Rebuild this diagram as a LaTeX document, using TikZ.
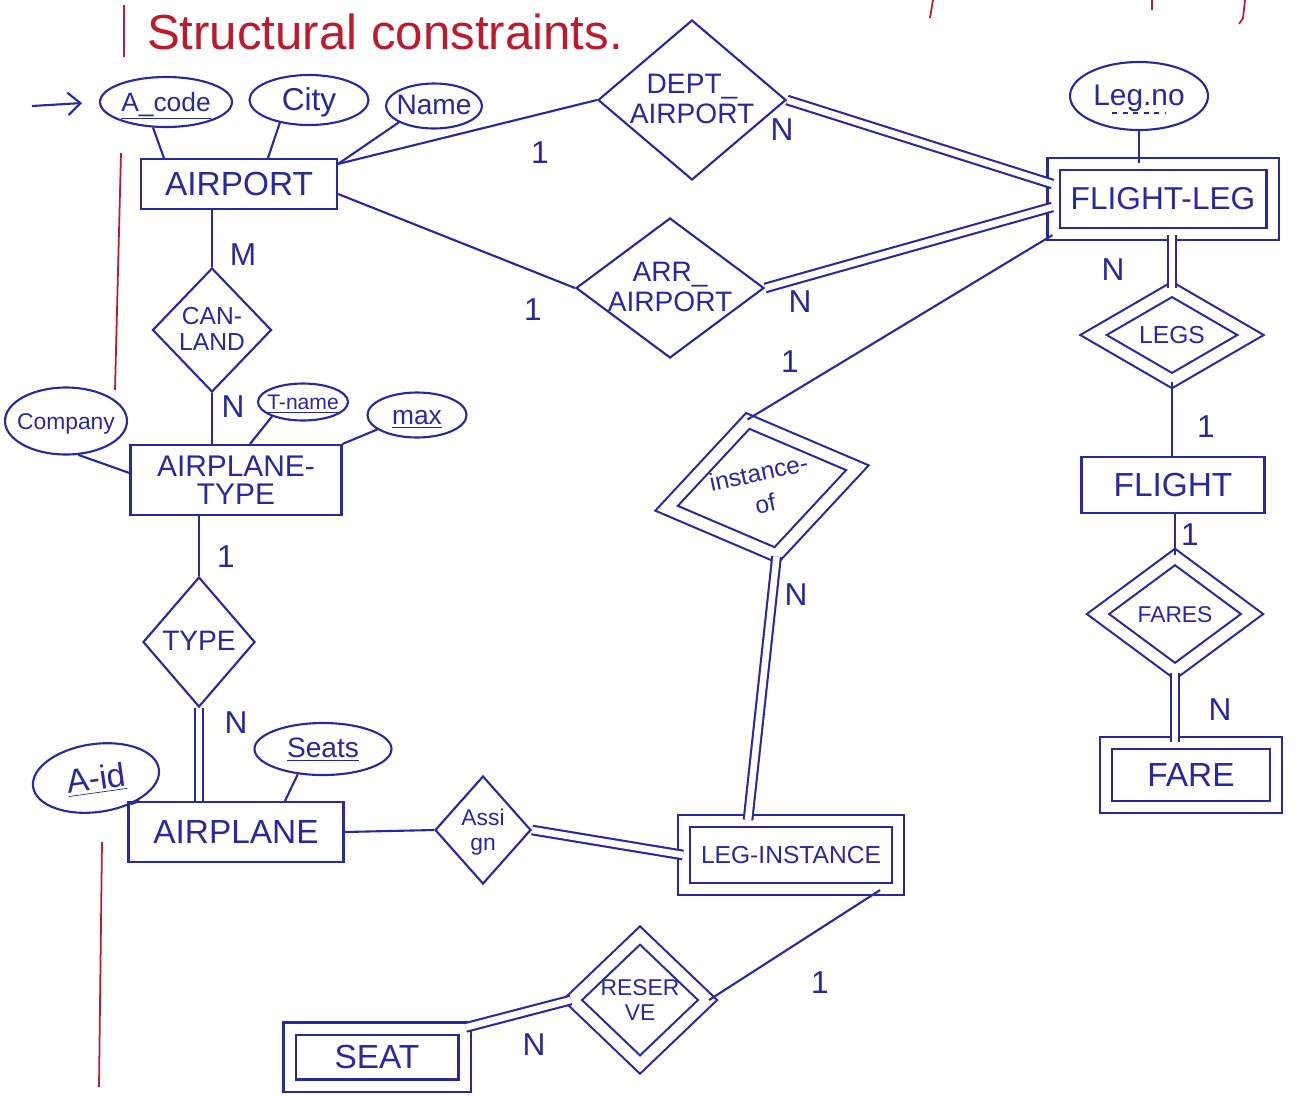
\documentclass[tikz,border=0pt]{standalone}
\usepackage{fontspec}
\setmainfont{Liberation Sans}
\usepackage{tikz}
\usetikzlibrary{calc, shapes.geometric}
\usetikzlibrary{arrows.meta}
\tikzset{>={Straight Barb[length=2.5mm,width=4.5mm]}}
\definecolor{ink}{RGB}{40,40,160}
\definecolor{redink}{RGB}{190,25,45}
\newcommand{\erlabel}[1]{\smash{\makebox[0pt]{\raisebox{-.36em}{\begin{tabular}{@{}c@{}}#1\end{tabular}}}}}

\begin{document}
\begin{tikzpicture}[
    x = 0.2mm, y = -0.2mm,
    line width = 1.2pt, ink,
    entity/.style = {draw, rectangle, inner sep=0pt, align=center,
        font=\fontsize{19}{21}\selectfont},
    weak/.style = {entity, double, double distance=2mm},
    attr/.style = {draw, ellipse, inner sep=0pt, font=\fontsize{16}{18}\selectfont},
    rel/.style = {draw, diamond, inner sep=0pt, font=\fontsize{16}{17}\selectfont},
    weakrel/.style = {rel, double, double distance=2.2mm},
    card/.style = {inner sep=0pt, font=\fontsize{18}{20}\selectfont},
    total/.style = {double, double distance=1.3mm},
    redpen/.style = {redink, line width=1pt}
  ]
  \useasboundingbox[fill=white] (0,0) rectangle (1295,1095);

  % heading and margin lines
  \node[redink, font=\fontsize{28}{30}\selectfont] (title) at (385,32) {Structural constraints.};
  \draw[redpen, line width=1.6pt] (124,5) -- (124,57);
  \draw[redpen] (933,0) -- (930,18);
  \draw[redpen] (1152,0) -- (1152,10);
  \draw[redpen] (1245,0) -- (1243,18) -- (1239,24);
  \draw[redpen] (121,153) -- (115,390);
  \draw[redpen] (102,842) -- (99,1087);

  % entities
  \node[entity, minimum width=39.2mm, minimum height=10mm] (airport) at (239,184) {AIRPORT};
  \node[entity, minimum width=42.2mm, minimum height=14mm,
        font=\fontsize{17}{16}\selectfont] (atype) at (236,480) {AIRPLANE-\\TYPE};
  \node[entity, minimum width=43mm, minimum height=12mm] (airplane) at (236,832) {AIRPLANE};
  \node[entity, minimum width=36.6mm, minimum height=11.2mm] (flight) at (1173,485) {FLIGHT};
  \node[weak, minimum width=43.8mm, minimum height=14mm,
        font=\fontsize{18}{20}\selectfont] (flightleg) at (1163,199) {FLIGHT-LEG};
  \node[weak, minimum width=42.8mm, minimum height=13.6mm,
        font=\fontsize{14}{16}\selectfont] (leginst) at (791,855) {LEG-INSTANCE};
  \node[weak, minimum width=34mm, minimum height=12.8mm] (fare) at (1191,775) {FARE};
  \node[weak, minimum width=35mm, minimum height=11.4mm] (seat) at (377,1057) {SEAT};

  % attributes
  \node[attr, minimum width=26.4mm, minimum height=10mm,
        font=\fontsize{15}{17}\selectfont] (acode) at (166,102) {\erlabel{\underline{A\_code}}};
  \node[attr, minimum width=23.8mm, minimum height=10mm,
        font=\fontsize{18}{20}\selectfont] (city) at (309,100) {\erlabel{City}};
  \node[attr, minimum width=19.2mm, minimum height=9mm] (aname) at (434,106) {\erlabel{Name}};
  \node[attr, minimum width=27.6mm, minimum height=13.6mm,
        font=\fontsize{17}{19}\selectfont] (legno) at (1139,96) {\erlabel{Leg.no}};
  \draw[dashed, line width=0.8pt] ($(legno.center)+(-27,17)$) -- ($(legno.center)+(27,17)$);
  \node[attr, minimum width=24.4mm, minimum height=13.4mm,
        font=\fontsize{13}{15}\selectfont] (company) at (66,421) {\erlabel{Company}};
  \node[attr, minimum width=18mm, minimum height=7.4mm,
        font=\fontsize{12}{14}\selectfont] (tname) at (303,402) {\erlabel{\underline{T-name}}};
  \node[attr, minimum width=19.8mm, minimum height=9mm,
        font=\fontsize{15}{17}\selectfont] (maxn) at (417,415) {\erlabel{\underline{max}}};
  \node[attr, minimum width=25.4mm, minimum height=13.6mm, rotate=8,
        font=\fontsize{19}{21}\selectfont] (aid) at (96,778) {\erlabel{\underline{A-id}}};
  \node[attr, minimum width=27.4mm, minimum height=10.4mm] (seats) at (323,749) {\erlabel{\underline{Seats}}};

  % relationships
  \node[rel, minimum width=37.6mm, minimum height=32mm] (dept) at (692,100) {\erlabel{DEPT\_\\AIRPORT}};
  \node[rel, minimum width=37.6mm, minimum height=28mm] (arr) at (670,288) {\erlabel{ARR\_\\AIRPORT}};
  \node[rel, minimum width=23.8mm, minimum height=24.8mm,
        font=\fontsize{14}{15}\selectfont] (canland) at (212,330) {\erlabel{CAN-\\LAND}};
  \node[rel, minimum width=22.4mm, minimum height=26mm] (typer) at (199,642) {\erlabel{TYPE}};
  \node[rel, minimum width=19.2mm, minimum height=21.6mm,
        font=\fontsize{13}{14}\selectfont] (assign) at (483,830) {\erlabel{Assi\\gn}};
  \node[weakrel, minimum width=39.2mm, minimum height=27.6mm, rotate=12,
        font=\fontsize{14}{18}\selectfont] (instof) at (762,488) {\erlabel{instance-\\of}};
  \node[weakrel, minimum width=31.6mm, minimum height=18.4mm,
        font=\fontsize{14}{16}\selectfont] (legs) at (1172,335) {\erlabel{LEGS}};
  \node[weakrel, minimum width=31mm, minimum height=23mm,
        font=\fontsize{13}{15}\selectfont] (fares) at (1175,614) {\erlabel{FARES}};
  \node[weakrel, minimum width=27.2mm, minimum height=26mm,
        font=\fontsize{13}{14}\selectfont] (reserve) at (640,1000) {\erlabel{RESER\\VE}};

  % key marker
  \coordinate (keymark) at (32,106);
  \draw[->, shorten >=3.4mm] (keymark) -- (acode.west);

  % attribute links
  \draw (acode.243) -- ($(airport.north west)+(24,0)$);
  \draw (city.218) -- ($(airport.north)+(29,0)$);
  \draw (aname.205) -- ($(airport.north east)+(0,6)$);
  \draw (legno.south) -- (legno.south |- flightleg.north);
  \draw (company.290) -- ($(atype.west)+(0,-7)$);
  \draw (tname.205) -- ($(atype.north)+(14,0)$);
  \draw (maxn.200) -- (atype.north east);
  \draw (aid.315) -- ($(airplane.north west)+(12,0)$);
  \draw (seats.225) -- ($(airplane.north)+(49,0)$);

  % relationship links
  \draw ($(airport.north east)+(0,6)$) -- (dept.west);
  \draw[total] (dept.east) -- ($(flightleg.west)+(0,-15)$);
  \draw ($(airport.east)+(0,10)$) -- (arr.west);
  \draw[total] (arr.east) -- ($(flightleg.west)+(0,8)$);
  \draw (canland.north |- airport.south) -- (canland.north);
  \draw (canland.south) -- (canland.south |- atype.north);
  \draw (typer.north |- atype.south) -- (typer.north);
  \draw[total] (typer.south) -- (typer.south |- airplane.north);
  \draw (airplane.east) -- (assign.west);
  \draw[total] (assign.east) -- (leginst.west);
  \draw (instof.north) -- (flightleg.south west);
  \draw[total] (instof.south) -- ($(leginst.north)+(-43,0)$);
  \draw[total] (legs.north |- flightleg.south) -- (legs.north);
  \draw (legs.south) -- (legs.south |- flight.north);
  \draw (flight.south -| fares.north) -- (fares.north);
  \draw[total] (fares.south) -- (fares.south |- fare.north);
  \draw ($(leginst.south east)+(-19,0)$) -- (reserve.east);
  \draw[total] (reserve.west) -- (seat.north east);

  % cardinalities
  \foreach \x/\y/\t [count=\k] in {540/153/1, 782/130/N, 533/310/1, 800/302/N,
      243/255/M, 233/407/N, 226/557/1, 236/723/N, 790/362/1, 796/595/N,
      1113/270/N, 1206/427/1, 1190/535/1, 1220/710/N, 820/983/1, 534/1045/N}
    \node[card] (card\k) at (\x,\y) {\t};
\end{tikzpicture}
\end{document}
